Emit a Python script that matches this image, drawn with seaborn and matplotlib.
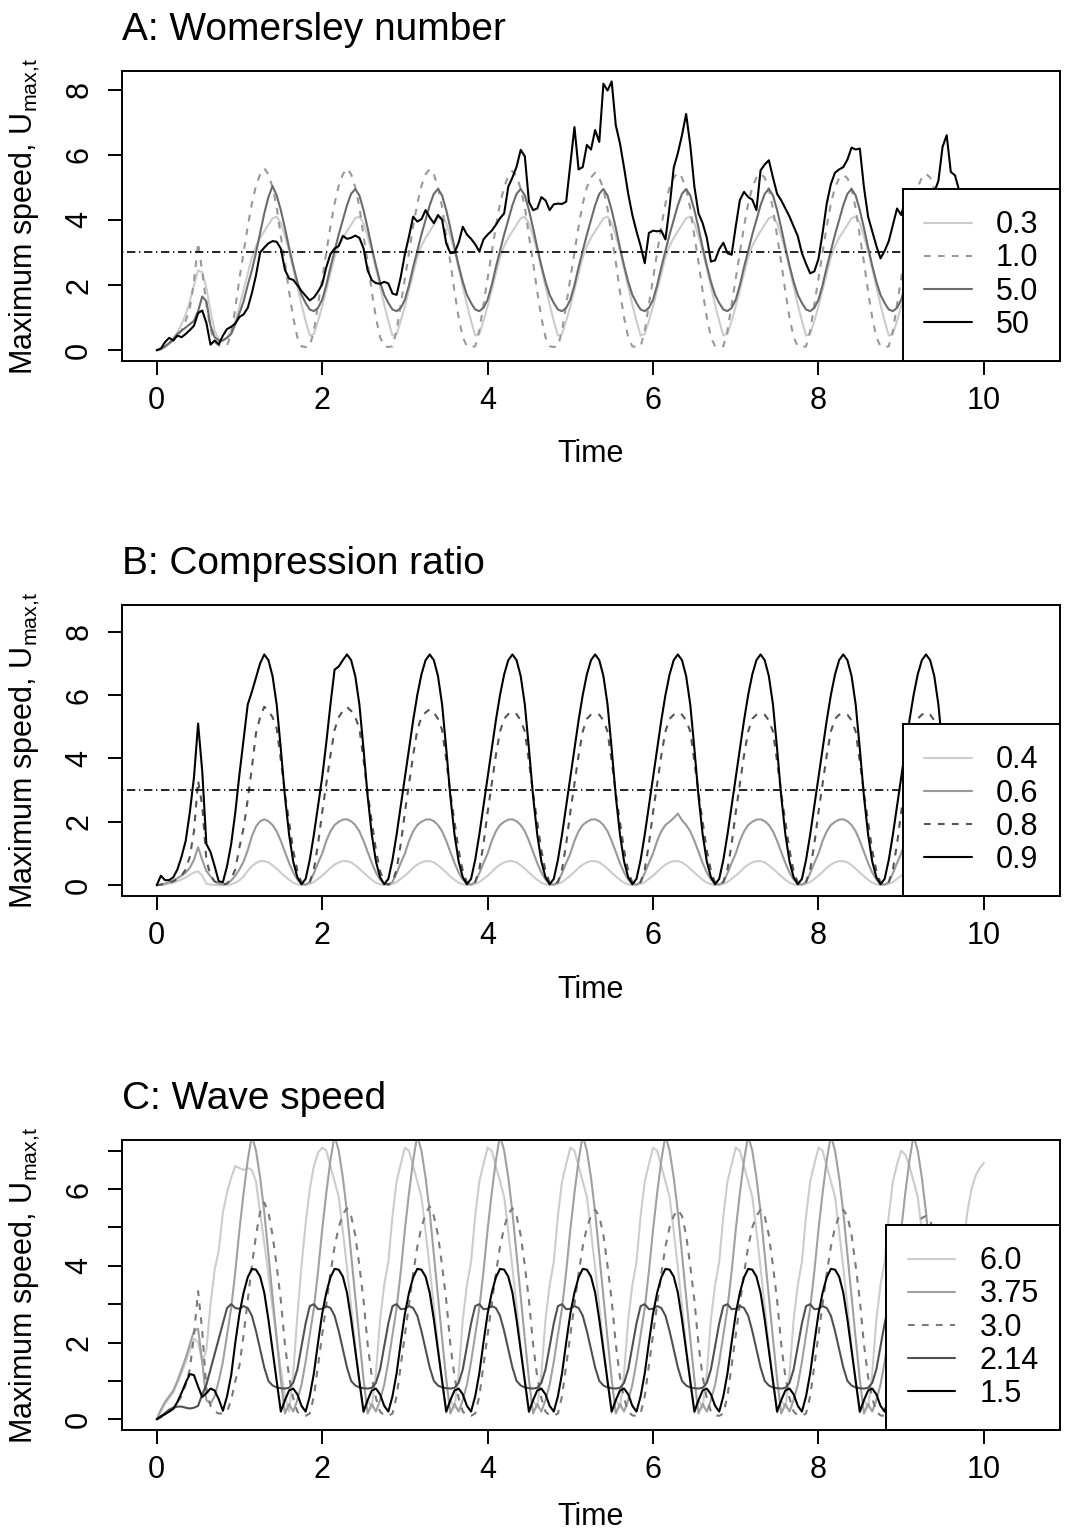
import numpy as np
import matplotlib
matplotlib.use("Agg")
import matplotlib.pyplot as plt
import seaborn as sns

# sampling grid: every 0.05 time units from 0 to 10
time = np.round(np.arange(201) * 0.05, 2)

# ---- A: Womersley number ----
wom_labels = ["0.3", "1.0", "5.0", "50"]
wom_03 = [
    0, 0.02, 0.08, 0.2, 0.35, 0.55, 0.8, 1.1, 1.5, 2.0, 2.45, 2.4, 1.9, 1.2, 0.6, 0.35, 0.3, 0.4, 0.6, 0.9,
    1.35, 1.85, 2.35, 2.85, 3.2, 3.45, 3.65, 3.85, 4.05, 4.1, 3.9, 3.5, 3.05, 2.5, 1.95, 1.4, 0.9, 0.45, 0.5, 0.9,
    1.35, 1.85, 2.35, 2.85, 3.2, 3.45, 3.65, 3.85, 4.05, 4.1, 3.9, 3.5, 3.05, 2.5, 1.95, 1.4, 0.9, 0.45, 0.5, 0.9,
    1.35, 1.85, 2.35, 2.85, 3.2, 3.45, 3.65, 3.85, 4.05, 4.1, 3.9, 3.5, 3.05, 2.5, 1.95, 1.4, 0.9, 0.45, 0.5, 0.9,
    1.35, 1.85, 2.35, 2.85, 3.2, 3.45, 3.65, 3.85, 4.05, 4.1, 3.9, 3.5, 3.05, 2.5, 1.95, 1.4, 0.9, 0.45, 0.5, 0.9,
    1.35, 1.85, 2.35, 2.85, 3.2, 3.45, 3.65, 3.85, 4.05, 4.1, 3.9, 3.5, 3.05, 2.5, 1.95, 1.4, 0.9, 0.45, 0.5, 0.9,
    1.35, 1.85, 2.35, 2.85, 3.2, 3.45, 3.65, 3.85, 4.05, 4.1, 3.9, 3.5, 3.05, 2.5, 1.95, 1.4, 0.9, 0.45, 0.5, 0.9,
    1.35, 1.85, 2.35, 2.85, 3.2, 3.45, 3.65, 3.85, 4.05, 4.1, 3.9, 3.5, 3.05, 2.5, 1.95, 1.4, 0.9, 0.45, 0.5, 0.9,
    1.35, 1.85, 2.35, 2.85, 3.2, 3.45, 3.65, 3.85, 4.05, 4.1, 3.9, 3.5, 3.05, 2.5, 1.95, 1.4, 0.9, 0.45, 0.5, 0.9,
    1.35, 1.85, 2.35, 2.85, 3.2, 3.45, 3.65, 3.85, 4.05, 4.1, 3.9, 3.5, 3.05, 2.5, 1.95, 1.4, 0.9, 0.45, 0.5, 0.9,
    1.35,
]
wom_10 = [
    0, 0.05, 0.12, 0.2, 0.3, 0.45, 0.6, 0.9, 1.3, 2.1, 3.3, 2.4, 1.4, 0.65, 0.25, 0.15, 0.12, 0.15, 0.5, 1.3,
    2.2, 3.0, 3.8, 4.5, 5.05, 5.4, 5.58, 5.4, 5.0, 4.4, 3.5, 2.7, 1.8, 1.0, 0.4, 0.12, 0.1, 0.12, 0.6, 1.4,
    2.2, 3.0, 3.8, 4.5, 5.05, 5.4, 5.58, 5.4, 5.0, 4.4, 3.5, 2.7, 1.8, 1.0, 0.4, 0.12, 0.1, 0.12, 0.6, 1.4,
    2.2, 3.0, 3.8, 4.5, 5.05, 5.4, 5.56, 5.4, 5.0, 4.4, 3.5, 2.7, 1.8, 1.0, 0.4, 0.12, 0.1, 0.12, 0.6, 1.4,
    2.2, 3.0, 3.8, 4.5, 5.0, 5.35, 5.5, 5.35, 4.95, 4.4, 3.5, 2.7, 1.8, 1.0, 0.4, 0.12, 0.1, 0.12, 0.6, 1.4,
    2.2, 3.0, 3.8, 4.5, 5.0, 5.3, 5.45, 5.3, 4.95, 4.35, 3.5, 2.7, 1.8, 1.0, 0.4, 0.12, 0.1, 0.12, 0.6, 1.4,
    2.2, 3.0, 3.8, 4.5, 5.0, 5.3, 5.45, 5.3, 4.95, 4.35, 3.5, 2.7, 1.8, 1.0, 0.4, 0.12, 0.1, 0.12, 0.6, 1.4,
    2.2, 3.0, 3.8, 4.5, 5.0, 5.3, 5.42, 5.3, 4.95, 4.35, 3.5, 2.7, 1.8, 1.0, 0.4, 0.12, 0.1, 0.12, 0.6, 1.4,
    2.2, 3.0, 3.8, 4.5, 5.0, 5.28, 5.38, 5.28, 4.95, 4.35, 3.5, 2.7, 1.8, 1.0, 0.4, 0.12, 0.1, 0.12, 0.6, 1.4,
    2.2, 3.0, 3.8, 4.5, 5.0, 5.3, 5.42, 5.3, 4.95, 4.35, 3.5, 2.7, 1.8, 1.0, 0.4, 0.12, 0.1, 0.12, 0.6, 1.4,
    2.2,
]
wom_5 = [
    0, 0.05, 0.12, 0.22, 0.35, 0.5, 0.6, 0.7, 0.8, 0.9, 1.2, 1.65, 1.5, 0.75, 0.4, 0.3, 0.3, 0.38, 0.5, 0.8,
    1.14, 1.5, 2.0, 2.45, 3.0, 3.6, 4.2, 4.7, 5.04, 4.75, 4.3, 3.75, 3.15, 2.6, 2.1, 1.7, 1.45, 1.25, 1.2, 1.3,
    1.55, 2.0, 2.55, 3.05, 3.55, 4.0, 4.45, 4.8, 4.95, 4.75, 4.3, 3.75, 3.15, 2.6, 2.1, 1.7, 1.45, 1.25, 1.2, 1.3,
    1.55, 2.0, 2.55, 3.05, 3.55, 4.0, 4.45, 4.8, 4.95, 4.75, 4.3, 3.75, 3.15, 2.6, 2.1, 1.7, 1.45, 1.25, 1.2, 1.3,
    1.55, 2.0, 2.55, 3.05, 3.55, 4.0, 4.45, 4.8, 4.95, 4.75, 4.3, 3.75, 3.15, 2.6, 2.1, 1.7, 1.45, 1.25, 1.2, 1.3,
    1.55, 2.0, 2.55, 3.05, 3.55, 4.0, 4.45, 4.8, 4.95, 4.75, 4.3, 3.75, 3.15, 2.6, 2.1, 1.7, 1.45, 1.25, 1.2, 1.3,
    1.55, 2.0, 2.55, 3.05, 3.55, 4.0, 4.45, 4.8, 4.95, 4.75, 4.3, 3.75, 3.15, 2.6, 2.1, 1.7, 1.45, 1.25, 1.2, 1.3,
    1.55, 2.0, 2.55, 3.05, 3.55, 4.0, 4.45, 4.8, 4.95, 4.75, 4.3, 3.75, 3.15, 2.6, 2.1, 1.7, 1.45, 1.25, 1.2, 1.3,
    1.55, 2.0, 2.55, 3.05, 3.55, 4.0, 4.45, 4.8, 4.95, 4.75, 4.3, 3.75, 3.15, 2.6, 2.1, 1.7, 1.45, 1.25, 1.2, 1.3,
    1.55, 2.0, 2.55, 3.05, 3.55, 4.0, 4.45, 4.8, 4.95, 4.75, 4.3, 3.75, 3.15, 2.6, 2.1, 1.7, 1.45, 1.25, 1.2, 1.3,
    1.55,
]
wom_50 = [
    0.0, 0.05, 0.25, 0.38, 0.30, 0.45, 0.40, 0.50, 0.62, 0.75, 1.14, 1.22, 0.84, 0.17, 0.30, 0.18, 0.45, 0.65, 0.72, 0.82,
    1.02, 1.10, 1.30, 1.75, 2.30, 3.00, 3.15, 3.28, 3.35, 3.33, 3.12, 2.47, 2.20, 2.16, 2.00, 1.82, 1.67, 1.53, 1.62, 1.80,
    2.02, 2.55, 2.95, 3.12, 3.20, 3.51, 3.42, 3.45, 3.52, 3.45, 3.13, 2.45, 2.15, 2.06, 2.04, 2.10, 2.05, 1.74, 1.70, 2.25,
    2.95, 3.50, 4.10, 3.95, 4.02, 4.30, 4.08, 3.90, 4.15, 4.00, 3.28, 2.98, 3.00, 3.30, 3.79, 3.55, 3.42, 3.25, 3.03, 3.40,
    3.55, 3.67, 3.85, 4.05, 4.20, 5.02, 5.30, 5.63, 6.15, 5.95, 4.55, 4.30, 4.35, 4.70, 4.60, 4.30, 4.48, 4.50, 4.49, 4.56,
    5.70, 6.85, 5.55, 5.62, 6.30, 6.16, 6.76, 6.39, 8.18, 7.97, 8.25, 6.90, 6.35, 5.60, 4.80, 4.15, 3.65, 3.20, 2.67, 3.60,
    3.67, 3.65, 3.67, 3.40, 4.40, 5.60, 6.05, 6.60, 7.25, 6.30, 5.02, 4.20, 3.90, 3.45, 2.72, 2.76, 3.10, 3.30, 2.98, 2.93,
    3.80, 4.61, 4.86, 4.70, 4.62, 4.30, 5.52, 5.70, 5.83, 5.30, 4.80, 4.60, 4.35, 4.10, 3.80, 3.50, 2.98, 2.65, 2.36, 2.42,
    2.80, 3.60, 4.50, 5.10, 5.45, 5.55, 5.62, 5.85, 6.22, 6.16, 6.19, 5.00, 4.10, 3.65, 3.20, 2.82, 3.05, 3.35, 3.85, 4.35,
    4.15, 4.61, 4.90, 4.80, 4.50, 4.30, 4.50, 4.70, 4.85, 5.20, 6.24, 6.60, 5.47, 5.37, 4.91, 4.60, 4.30, 4.00, 3.80, 3.60,
    3.40,
]

# ---- B: Compression ratio ----
comp_labels = ["0.4", "0.6", "0.8", "0.9"]
comp_04 = [
    0, 0.01, 0.03, 0.05, 0.08, 0.12, 0.18, 0.25, 0.33, 0.4, 0.44, 0.3, 0.05, 0.02, 0.01, 0.0, 0.0, 0.01, 0.03, 0.08,
    0.15, 0.28, 0.45, 0.6, 0.7, 0.76, 0.76, 0.72, 0.63, 0.52, 0.4, 0.28, 0.17, 0.08, 0.03, 0.01, 0.01, 0.04, 0.1, 0.2,
    0.3, 0.42, 0.55, 0.65, 0.72, 0.76, 0.76, 0.72, 0.63, 0.52, 0.4, 0.28, 0.17, 0.08, 0.03, 0.01, 0.01, 0.04, 0.1, 0.2,
    0.3, 0.42, 0.55, 0.65, 0.72, 0.76, 0.76, 0.72, 0.63, 0.52, 0.4, 0.28, 0.17, 0.08, 0.03, 0.01, 0.01, 0.04, 0.1, 0.2,
    0.3, 0.42, 0.55, 0.65, 0.72, 0.76, 0.76, 0.72, 0.63, 0.52, 0.4, 0.28, 0.17, 0.08, 0.03, 0.01, 0.01, 0.04, 0.1, 0.2,
    0.3, 0.42, 0.55, 0.65, 0.72, 0.76, 0.76, 0.72, 0.63, 0.52, 0.4, 0.28, 0.17, 0.08, 0.03, 0.01, 0.01, 0.04, 0.1, 0.2,
    0.3, 0.42, 0.55, 0.65, 0.72, 0.76, 0.76, 0.72, 0.63, 0.52, 0.4, 0.28, 0.17, 0.08, 0.03, 0.01, 0.01, 0.04, 0.1, 0.2,
    0.3, 0.42, 0.55, 0.65, 0.72, 0.76, 0.76, 0.72, 0.63, 0.52, 0.4, 0.28, 0.17, 0.08, 0.03, 0.01, 0.01, 0.04, 0.1, 0.2,
    0.3, 0.42, 0.55, 0.65, 0.72, 0.76, 0.76, 0.72, 0.63, 0.52, 0.4, 0.28, 0.17, 0.08, 0.03, 0.01, 0.01, 0.04, 0.1, 0.2,
    0.3, 0.42, 0.55, 0.65, 0.72, 0.76, 0.76, 0.72, 0.63, 0.52, 0.4, 0.28, 0.17, 0.08, 0.03, 0.01, 0.01, 0.04, 0.1, 0.2,
    0.3,
]
comp_06 = [
    0, 0.02, 0.05, 0.1, 0.15, 0.22, 0.3, 0.4, 0.55, 0.8, 1.2, 0.8, 0.45, 0.28, 0.12, 0.05, 0.03, 0.06, 0.15, 0.3,
    0.5, 0.75, 1.1, 1.55, 1.85, 2.02, 2.08, 2.02, 1.9, 1.7, 1.4, 1.05, 0.7, 0.4, 0.18, 0.05, 0.02, 0.1, 0.38, 0.7,
    1.0, 1.4, 1.7, 1.9, 2.0, 2.07, 2.08, 2.02, 1.9, 1.7, 1.4, 1.05, 0.7, 0.4, 0.18, 0.05, 0.02, 0.1, 0.38, 0.7,
    1.0, 1.4, 1.7, 1.9, 2.0, 2.07, 2.08, 2.02, 1.9, 1.7, 1.4, 1.05, 0.7, 0.4, 0.18, 0.05, 0.02, 0.1, 0.38, 0.7,
    1.0, 1.4, 1.7, 1.9, 2.0, 2.07, 2.08, 2.02, 1.9, 1.7, 1.4, 1.05, 0.7, 0.4, 0.18, 0.05, 0.02, 0.1, 0.38, 0.7,
    1.0, 1.4, 1.7, 1.9, 2.0, 2.07, 2.08, 2.02, 1.9, 1.7, 1.4, 1.05, 0.7, 0.4, 0.18, 0.05, 0.02, 0.1, 0.38, 0.7,
    1.0, 1.4, 1.7, 1.9, 2.0, 2.12, 2.26, 2.05, 1.9, 1.7, 1.4, 1.05, 0.7, 0.4, 0.18, 0.05, 0.02, 0.1, 0.38, 0.7,
    1.0, 1.4, 1.7, 1.9, 2.0, 2.07, 2.08, 2.02, 1.9, 1.7, 1.4, 1.05, 0.7, 0.4, 0.18, 0.05, 0.02, 0.1, 0.38, 0.7,
    1.0, 1.4, 1.7, 1.9, 2.0, 2.07, 2.08, 2.02, 1.9, 1.7, 1.4, 1.05, 0.7, 0.4, 0.18, 0.05, 0.02, 0.1, 0.38, 0.7,
    1.0, 1.4, 1.7, 1.9, 2.0, 2.07, 2.08, 2.02, 1.9, 1.7, 1.4, 1.05, 0.7, 0.4, 0.18, 0.05, 0.02, 0.1, 0.38, 0.7,
    1.0,
]
comp_08 = [
    0, 0.02, 0.04, 0.08, 0.12, 0.2, 0.3, 0.5, 0.9, 1.7, 3.3, 2.5, 0.8, 0.3, 0.12, 0.05, 0.02, 0.05, 0.2, 0.5,
    1.2, 1.8, 2.7, 3.7, 4.8, 5.3, 5.63, 5.5, 5.3, 4.95, 3.95, 2.9, 2.0, 1.1, 0.45, 0.08, 0.02, 0.1, 0.5, 1.3,
    2.3, 3.2, 4.1, 4.9, 5.3, 5.5, 5.62, 5.5, 5.3, 4.95, 3.95, 2.9, 2.0, 1.1, 0.45, 0.08, 0.02, 0.1, 0.5, 1.3,
    2.3, 3.2, 4.1, 4.9, 5.3, 5.45, 5.55, 5.45, 5.25, 4.9, 3.95, 2.9, 2.0, 1.1, 0.45, 0.08, 0.02, 0.1, 0.5, 1.3,
    2.3, 3.2, 4.1, 4.85, 5.25, 5.4, 5.47, 5.4, 5.2, 4.85, 3.9, 2.9, 2.0, 1.1, 0.45, 0.08, 0.02, 0.1, 0.5, 1.3,
    2.3, 3.2, 4.1, 4.85, 5.25, 5.38, 5.42, 5.38, 5.2, 4.85, 3.9, 2.9, 2.0, 1.1, 0.45, 0.08, 0.02, 0.1, 0.5, 1.3,
    2.3, 3.2, 4.1, 4.85, 5.25, 5.38, 5.45, 5.38, 5.2, 4.85, 3.9, 2.9, 2.0, 1.1, 0.45, 0.08, 0.02, 0.1, 0.5, 1.3,
    2.3, 3.2, 4.1, 4.85, 5.25, 5.38, 5.42, 5.38, 5.2, 4.85, 3.9, 2.9, 2.0, 1.1, 0.45, 0.08, 0.02, 0.1, 0.5, 1.3,
    2.3, 3.2, 4.1, 4.85, 5.25, 5.38, 5.42, 5.38, 5.2, 4.85, 3.9, 2.9, 2.0, 1.1, 0.45, 0.08, 0.02, 0.1, 0.5, 1.3,
    2.3, 3.2, 4.1, 4.85, 5.25, 5.38, 5.45, 5.38, 5.2, 4.85, 3.9, 2.9, 2.0, 1.1, 0.45, 0.08, 0.02, 0.1, 0.5, 1.3,
    2.3,
]
comp_09 = [
    0, 0.3, 0.16, 0.16, 0.25, 0.5, 0.9, 1.4, 2.3, 3.4, 5.1, 3.6, 1.3, 1.05, 0.6, 0.12, 0.1, 0.6, 1.3, 2.3,
    3.5, 4.6, 5.7, 6.1, 6.55, 7.0, 7.28, 7.1, 6.6, 5.7, 4.3, 2.8, 1.6, 0.75, 0.25, 0.03, 0.2, 0.8, 1.6, 2.5,
    3.4, 4.5, 5.7, 6.8, 6.9, 7.1, 7.28, 7.1, 6.6, 5.7, 4.3, 2.8, 1.6, 0.75, 0.25, 0.03, 0.2, 0.8, 1.6, 2.5,
    3.4, 4.3, 5.2, 6.0, 6.65, 7.1, 7.28, 7.1, 6.6, 5.7, 4.3, 2.8, 1.6, 0.75, 0.25, 0.03, 0.2, 0.8, 1.6, 2.5,
    3.4, 4.3, 5.2, 6.0, 6.65, 7.1, 7.28, 7.1, 6.6, 5.7, 4.3, 2.8, 1.6, 0.75, 0.25, 0.03, 0.2, 0.8, 1.6, 2.5,
    3.4, 4.3, 5.2, 6.0, 6.65, 7.1, 7.28, 7.1, 6.6, 5.7, 4.3, 2.8, 1.6, 0.75, 0.25, 0.03, 0.2, 0.8, 1.6, 2.5,
    3.4, 4.3, 5.2, 6.0, 6.65, 7.1, 7.28, 7.1, 6.6, 5.7, 4.3, 2.8, 1.6, 0.75, 0.25, 0.03, 0.2, 0.8, 1.6, 2.5,
    3.4, 4.3, 5.2, 6.0, 6.65, 7.1, 7.28, 7.1, 6.6, 5.7, 4.3, 2.8, 1.6, 0.75, 0.25, 0.03, 0.2, 0.8, 1.6, 2.5,
    3.4, 4.3, 5.2, 6.0, 6.65, 7.1, 7.28, 7.1, 6.6, 5.7, 4.3, 2.8, 1.6, 0.75, 0.25, 0.03, 0.2, 0.8, 1.6, 2.5,
    3.4, 4.3, 5.2, 6.0, 6.65, 7.1, 7.28, 7.1, 6.6, 5.7, 4.3, 2.8, 1.6, 0.75, 0.25, 0.03, 0.2, 0.8, 1.6, 2.5,
    3.4,
]

# ---- C: Wave speed ----
wave_labels = ["6.0", "3.75", "3.0", "2.14", "1.5"]
wave_60 = [
    0, 0.2, 0.4, 0.55, 0.7, 0.95, 1.2, 1.5, 1.8, 2.1, 2.0, 1.5, 1.8, 3.0, 3.9, 4.4, 5.4, 5.9, 6.3, 6.6,
    6.55, 6.5, 6.55, 6.5, 6.2, 5.37, 4.6, 3.75, 2.9, 2.1, 1.3, 0.6, 0.2, 1.2, 2.7, 4.0, 5.1, 6.0, 6.6, 6.95,
    7.08, 7.0, 6.6, 6.2, 5.8, 4.9, 3.95, 2.95, 1.9, 0.95, 0.17, 0.5, 0.3, 1.2, 2.6, 3.5, 4.1, 5.3, 6.2, 6.65,
    7.08, 7.0, 6.6, 6.2, 5.8, 4.9, 3.95, 2.95, 1.9, 0.95, 0.17, 0.5, 0.3, 1.2, 2.6, 3.5, 4.1, 5.3, 6.2, 6.65,
    7.08, 7.0, 6.6, 6.2, 5.8, 4.9, 3.95, 2.95, 1.9, 0.95, 0.17, 0.5, 0.3, 1.2, 2.6, 3.5, 4.1, 5.3, 6.2, 6.65,
    7.08, 7.0, 6.6, 6.2, 5.8, 4.9, 3.95, 2.95, 1.9, 0.95, 0.17, 0.5, 0.3, 1.2, 2.6, 3.5, 4.1, 5.3, 6.2, 6.65,
    7.08, 7.0, 6.6, 6.2, 5.8, 4.9, 3.95, 2.95, 1.9, 0.95, 0.17, 0.5, 0.3, 1.2, 2.6, 3.5, 4.1, 5.3, 6.2, 6.65,
    7.08, 7.0, 6.6, 6.2, 5.8, 4.9, 3.95, 2.95, 1.9, 0.95, 0.17, 0.5, 0.3, 1.2, 2.6, 3.5, 4.1, 5.3, 6.2, 6.65,
    7.08, 7.0, 6.6, 6.2, 5.8, 4.9, 3.95, 2.95, 1.9, 0.95, 0.17, 0.5, 0.3, 1.2, 2.6, 3.5, 4.1, 5.3, 6.2, 6.65,
    7.0, 6.9, 6.6, 6.2, 5.8, 4.9, 3.95, 2.95, 1.9, 0.95, 0.17, 0.5, 0.3, 1.2, 2.6, 4.5, 5.4, 6.0, 6.35, 6.55,
    6.68,
]
wave_375 = [
    0, 0.25, 0.45, 0.6, 0.75, 1.0, 1.3, 1.6, 1.95, 2.3, 2.36, 1.5, 0.5, 0.4, 0.6, 1.0, 1.5, 2.2, 2.9, 3.85,
    4.94, 5.9, 6.75, 7.4, 7.0, 6.3, 5.4, 4.3, 3.2, 2.1, 1.04, 0.15, 0.4, 0.2, 0.5, 0.9, 1.5, 2.2, 2.9, 3.85,
    4.94, 5.9, 6.75, 7.4, 7.0, 6.3, 5.4, 4.3, 3.2, 2.1, 1.04, 0.15, 0.4, 0.2, 0.5, 0.9, 1.5, 2.2, 2.9, 3.85,
    4.94, 5.9, 6.75, 7.4, 7.0, 6.3, 5.4, 4.3, 3.2, 2.1, 1.04, 0.15, 0.4, 0.2, 0.5, 0.9, 1.5, 2.2, 2.9, 3.85,
    4.94, 5.9, 6.75, 7.4, 7.0, 6.3, 5.4, 4.3, 3.2, 2.1, 1.04, 0.15, 0.4, 0.2, 0.5, 0.9, 1.5, 2.2, 2.9, 3.85,
    4.94, 5.9, 6.75, 7.4, 7.0, 6.3, 5.4, 4.3, 3.2, 2.1, 1.04, 0.15, 0.4, 0.2, 0.5, 0.9, 1.5, 2.2, 2.9, 3.85,
    4.94, 5.9, 6.75, 7.4, 7.0, 6.3, 5.4, 4.3, 3.2, 2.1, 1.04, 0.15, 0.4, 0.2, 0.5, 0.9, 1.5, 2.2, 2.9, 3.85,
    4.94, 5.9, 6.75, 7.4, 7.0, 6.3, 5.4, 4.3, 3.2, 2.1, 1.04, 0.15, 0.4, 0.2, 0.5, 0.9, 1.5, 2.2, 2.9, 3.85,
    4.94, 5.9, 6.75, 7.4, 7.0, 6.3, 5.4, 4.3, 3.2, 2.1, 1.04, 0.15, 0.4, 0.2, 0.5, 0.9, 1.5, 2.2, 2.9, 3.85,
    4.94, 5.9, 6.75, 7.4, 7.0, 6.3, 5.4, 4.3, 3.2, 2.1, 1.04, 0.15, 0.4, 0.2, 0.5, 0.9, 1.5, 2.2, 2.9, 3.85,
    4.94,
]
wave_30 = [
    0, 0.05, 0.12, 0.2, 0.3, 0.45, 0.6, 0.9, 1.3, 2.2, 3.34, 2.3, 0.8, 0.35, 0.2, 0.15, 0.15, 0.2, 0.5, 1.0,
    1.4, 2.2, 3.1, 4.0, 4.8, 5.4, 5.65, 5.4, 4.8, 4.0, 3.1, 1.95, 1.1, 0.55, 0.2, 0.1, 0.09, 0.15, 0.6, 1.4,
    2.2, 3.0, 3.8, 4.5, 5.0, 5.35, 5.5, 5.3, 4.8, 4.0, 3.1, 1.95, 1.1, 0.55, 0.2, 0.1, 0.09, 0.15, 0.6, 1.4,
    2.2, 3.0, 3.8, 4.5, 5.0, 5.35, 5.55, 5.3, 4.8, 4.0, 3.1, 1.95, 1.1, 0.55, 0.2, 0.1, 0.09, 0.15, 0.6, 1.4,
    2.2, 3.0, 3.8, 4.5, 5.0, 5.35, 5.5, 5.3, 4.8, 4.0, 3.1, 1.95, 1.1, 0.55, 0.2, 0.1, 0.09, 0.15, 0.6, 1.4,
    2.2, 3.0, 3.8, 4.5, 5.0, 5.3, 5.46, 5.3, 4.8, 4.0, 3.1, 1.95, 1.1, 0.55, 0.2, 0.1, 0.09, 0.15, 0.6, 1.4,
    2.2, 3.0, 3.8, 4.5, 5.0, 5.3, 5.46, 5.3, 4.8, 4.0, 3.1, 1.95, 1.1, 0.55, 0.2, 0.1, 0.09, 0.15, 0.6, 1.4,
    2.2, 3.0, 3.8, 4.5, 5.0, 5.3, 5.46, 5.3, 4.8, 4.0, 3.1, 1.95, 1.1, 0.55, 0.2, 0.1, 0.09, 0.15, 0.6, 1.4,
    2.2, 3.0, 3.8, 4.5, 5.0, 5.3, 5.46, 5.3, 4.8, 4.0, 3.1, 1.95, 1.1, 0.55, 0.2, 0.1, 0.09, 0.15, 0.6, 1.4,
    2.2, 3.0, 3.8, 4.5, 5.0, 5.25, 5.3, 5.2, 4.8, 4.0, 3.1, 1.95, 1.1, 0.55, 0.2, 0.1, 0.09, 0.15, 0.6, 1.4,
    2.2,
]
wave_214 = [
    0, 0.08, 0.16, 0.25, 0.3, 0.33, 0.33, 0.3, 0.28, 0.3, 0.35, 0.65, 0.9, 1.3, 1.7, 2.1, 2.5, 2.9, 3.0, 2.9,
    2.88, 2.95, 2.9, 2.7, 2.3, 1.82, 1.35, 1.0, 0.88, 0.83, 0.81, 0.8, 0.82, 0.95, 1.3, 1.9, 2.5, 2.95, 3.0, 2.87,
    2.88, 2.95, 2.9, 2.7, 2.3, 1.82, 1.35, 1.0, 0.88, 0.83, 0.81, 0.8, 0.82, 0.95, 1.3, 1.9, 2.5, 2.95, 3.0, 2.87,
    2.88, 2.95, 2.9, 2.7, 2.3, 1.82, 1.35, 1.0, 0.88, 0.83, 0.81, 0.8, 0.82, 0.95, 1.3, 1.9, 2.5, 2.95, 3.0, 2.87,
    2.88, 2.95, 2.9, 2.7, 2.3, 1.82, 1.35, 1.0, 0.88, 0.83, 0.81, 0.8, 0.82, 0.95, 1.3, 1.9, 2.5, 2.95, 3.0, 2.87,
    2.88, 2.95, 2.9, 2.7, 2.3, 1.82, 1.35, 1.0, 0.88, 0.83, 0.81, 0.8, 0.82, 0.95, 1.3, 1.9, 2.5, 2.95, 3.0, 2.87,
    2.88, 2.95, 2.9, 2.7, 2.3, 1.82, 1.35, 1.0, 0.88, 0.83, 0.81, 0.8, 0.82, 0.95, 1.3, 1.9, 2.5, 2.95, 3.0, 2.87,
    2.88, 2.95, 2.9, 2.7, 2.3, 1.82, 1.35, 1.0, 0.88, 0.83, 0.81, 0.8, 0.82, 0.95, 1.3, 1.9, 2.5, 2.95, 3.0, 2.87,
    2.88, 2.95, 2.9, 2.7, 2.3, 1.82, 1.35, 1.0, 0.88, 0.83, 0.81, 0.8, 0.82, 0.95, 1.3, 1.9, 2.5, 2.95, 3.0, 2.87,
    2.88, 2.95, 2.9, 2.7, 2.3, 1.82, 1.35, 1.0, 0.88, 0.83, 0.81, 0.8, 0.82, 0.95, 1.3, 1.9, 2.5, 2.95, 3.0, 2.87,
    2.88,
]
wave_15 = [
    0, 0.07, 0.13, 0.2, 0.27, 0.45, 0.69, 0.95, 1.18, 1.15, 0.85, 0.58, 0.68, 0.8, 0.75, 0.52, 0.22, 0.6, 1.15, 2.0,
    2.75, 3.3, 3.7, 3.92, 3.9, 3.72, 3.3, 2.6, 1.8, 1.0, 0.2, 0.5, 0.75, 0.8, 0.65, 0.35, 0.2, 0.6, 1.2, 2.0,
    2.75, 3.3, 3.7, 3.92, 3.9, 3.72, 3.3, 2.6, 1.8, 1.0, 0.2, 0.5, 0.75, 0.8, 0.65, 0.35, 0.2, 0.6, 1.2, 2.0,
    2.75, 3.3, 3.7, 3.92, 3.9, 3.72, 3.3, 2.6, 1.8, 1.0, 0.2, 0.5, 0.75, 0.8, 0.65, 0.35, 0.2, 0.6, 1.2, 2.0,
    2.75, 3.3, 3.7, 3.92, 3.9, 3.72, 3.3, 2.6, 1.8, 1.0, 0.2, 0.5, 0.75, 0.8, 0.65, 0.35, 0.2, 0.6, 1.2, 2.0,
    2.75, 3.3, 3.7, 3.92, 3.9, 3.72, 3.3, 2.6, 1.8, 1.0, 0.2, 0.5, 0.75, 0.8, 0.65, 0.35, 0.2, 0.6, 1.2, 2.0,
    2.75, 3.3, 3.7, 3.92, 3.9, 3.72, 3.3, 2.6, 1.8, 1.0, 0.2, 0.5, 0.75, 0.8, 0.65, 0.35, 0.2, 0.6, 1.2, 2.0,
    2.75, 3.3, 3.7, 3.92, 3.9, 3.72, 3.3, 2.6, 1.8, 1.0, 0.2, 0.5, 0.75, 0.8, 0.65, 0.35, 0.2, 0.6, 1.2, 2.0,
    2.75, 3.3, 3.7, 3.92, 3.9, 3.72, 3.3, 2.6, 1.8, 1.0, 0.2, 0.5, 0.75, 0.8, 0.65, 0.35, 0.2, 0.6, 1.2, 2.0,
    2.75, 3.3, 3.7, 3.92, 3.9, 3.72, 3.3, 2.6, 1.8, 1.0, 0.2, 0.5, 0.75, 0.8, 0.65, 0.35, 0.2, 0.6, 1.2, 2.0,
    2.75,
]

threshold = 3.0

# ---- styling ----
sns.set_theme(style="ticks")
plt.rcParams["font.family"] = ["Liberation Sans", "DejaVu Sans"]
plt.rcParams["mathtext.fontset"] = "custom"
plt.rcParams["mathtext.rm"] = "Liberation Sans"
plt.rcParams["mathtext.it"] = "Liberation Sans:italic"
for key in ["text.color", "axes.labelcolor", "xtick.color", "ytick.color", "axes.edgecolor"]:
    plt.rcParams[key] = "black"

FS = 22
LW = 1.5
DASH = (0, (3.2, 3.5))
DOTDASH = (0, (0.8, 2.2, 5.0, 2.2))

W, H = 1065, 1535
fig = plt.figure(figsize=(W / 100, H / 100), dpi=100)


def add_axes(top, bottom, left=122, right=1060):
    return fig.add_axes([left / W, 1 - bottom / H, (right - left) / W, (bottom - top) / H])


panels = [
    dict(top=71, bottom=361, title="A: Womersley number", ylim=(-0.33, 8.57), hline=True,
         xlab_y=-0.322,
         yticks=[0, 2, 4, 6, 8], ylabels=["0", "2", "4", "6", "8"],
         series=[wom_03, wom_10, wom_5, wom_50], labels=wom_labels,
         colors=["#cccccc", "#999999", "#6b6b6b", "#000000"],
         styles=["-", DASH, "-", "-"]),
    dict(top=605, bottom=896, title="B: Compression ratio", ylim=(-0.34, 8.84), hline=True,
         xlab_y=-0.322,
         yticks=[0, 2, 4, 6, 8], ylabels=["0", "2", "4", "6", "8"],
         series=[comp_04, comp_06, comp_08, comp_09], labels=comp_labels,
         colors=["#cccccc", "#999999", "#555555", "#000000"],
         styles=["-", "-", DASH, "-"]),
    dict(top=1140, bottom=1430, title="C: Wave speed", ylim=(-0.28, 7.28), hline=False,
         xlab_y=-0.300,
         yticks=[0, 1, 2, 3, 4, 5, 6, 7], ylabels=["0", "", "2", "", "4", "", "6", ""],
         series=[wave_60, wave_375, wave_30, wave_214, wave_15], labels=wave_labels,
         colors=["#cccccc", "#a0a0a0", "#7a7a7a", "#505050", "#000000"],
         styles=["-", "-", DASH, "-", "-"]),
]

for p in panels:
    ax = add_axes(p["top"], p["bottom"])
    for vals, lab, col, ls in zip(p["series"], p["labels"], p["colors"], p["styles"]):
        sns.lineplot(x=time, y=vals, ax=ax, color=col, linestyle=ls, linewidth=LW,
                     label=lab, estimator=None, sort=False)
    if p["hline"]:
        ax.axhline(threshold, color="black", linestyle=DOTDASH, linewidth=1.2)

    ax.set_xlim(-0.42, 10.92)
    ax.set_ylim(*p["ylim"])
    ax.set_xticks([0, 2, 4, 6, 8, 10])
    ax.set_xticklabels(["0", "2", "4", "6", "8", "10"])
    ax.set_yticks(p["yticks"])
    ax.set_yticklabels(p["ylabels"])
    ax.tick_params(axis="both", direction="out", length=10, width=1.4, labelsize=FS,
                   colors="black", pad=8)
    ax.tick_params(axis="y", labelrotation=90, pad=10)
    for lab in ax.get_yticklabels():
        lab.set_va("center")
    for s in ax.spines.values():
        s.set_visible(True)
        s.set_color("black")
        s.set_linewidth(1.4)

    ax.set_xlabel("Time", fontsize=FS)
    ax.xaxis.label.set_va("center")
    ax.xaxis.set_label_coords(0.5, p["xlab_y"])
    ax.set_ylabel(r"Maximum speed, U$_{\mathregular{max{,}t}}$", fontsize=FS)
    ax.yaxis.label.set_va("center")
    ax.yaxis.set_label_coords(-0.104, 0.5)

    ax.set_title(p["title"], loc="left", fontsize=28, pad=22)

    leg = ax.legend(loc="lower right", bbox_to_anchor=(1.0, 0.0), borderaxespad=0,
                    fontsize=FS, frameon=True, fancybox=False, framealpha=1,
                    edgecolor="black", handlelength=1.55, handletextpad=0.8,
                    labelspacing=0.1, borderpad=0.7)
    leg.get_frame().set_linewidth(1.4)

fig.savefig("out.png", dpi=100)
